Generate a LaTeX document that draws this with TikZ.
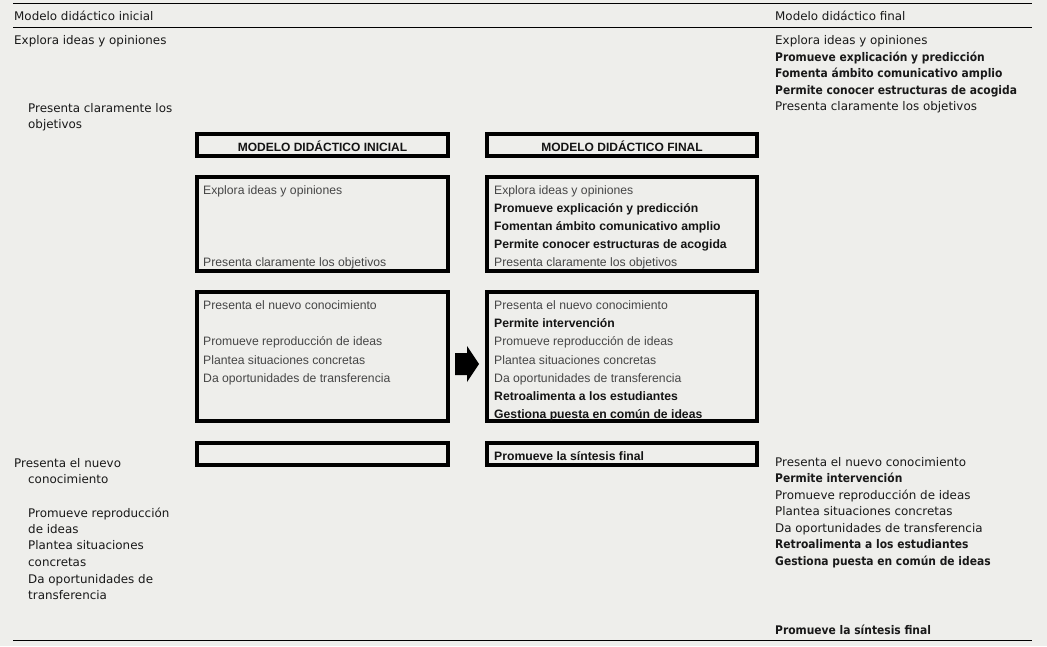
\documentclass[tikz,border=0pt]{standalone}
\usepackage{fontspec}
\setmainfont{DejaVu Sans}
\newfontfamily\dvbold[FakeStretch=0.9]{DejaVu Sans Bold}
\newfontfamily\arialf{Liberation Sans}
\definecolor{bg}{RGB}{238,238,235}
\definecolor{txt}{RGB}{25,25,25}
\definecolor{boxtxt}{RGB}{70,70,70}
\definecolor{boldtxt}{RGB}{20,20,20}
\begin{document}
\begin{tikzpicture}[x=1pt,y=-1pt,
  col/.style={anchor=base west,inner sep=0pt,text=txt,font=\fontsize{11.9}{14}\selectfont},
  colb/.style={col,font=\dvbold\fontsize{11.9}{14}\selectfont},
  bt/.style={anchor=base west,inner sep=0pt,text=boxtxt,font=\arialf\fontsize{12.2}{14}\selectfont},
  btb/.style={bt,text=boldtxt,font=\arialf\fontsize{12.2}{14}\selectfont\bfseries},
  hdr/.style={anchor=base,inner sep=0pt,text=boldtxt,font=\arialf\fontsize{12}{14}\selectfont\bfseries},
  rule/.style={line width=0.9pt,black},
  boxline/.style={line width=3.6pt,black}]
\fill[bg] (0,0) rectangle (1047,646);
\useasboundingbox (0,0) rectangle (1047,646);
% rules
\draw[rule] (13,3) -- (1032,3);
\draw[rule] (13,27) -- (1032,27);
\draw[rule] (13,640) -- (1032,640);
% headers
\node[col] (hl) at (14,20) {Modelo didáctico inicial};
\node[col] (hr) at (775,20) {Modelo didáctico final};
% left column top
\node[col] (l1) at (14,44) {Explora ideas y opiniones};
\node[col] (l2) at (28,112) {Presenta claramente los};
\node[col] (l3) at (28,128) {objetivos};
% right column top
\node[col] (r1) at (775,44) {Explora ideas y opiniones};
\node[colb] (r2) at (775,61) {Promueve explicación y predicción};
\node[colb] (r3) at (775,77.5) {Fomenta ámbito comunicativo amplio};
\node[colb] (r4) at (775,94) {Permite conocer estructuras de acogida};
\node[col] (r5) at (775,110.5) {Presenta claramente los objetivos};
% boxes
\draw[boxline] (197,134) rectangle (448,156);
\draw[boxline] (487,134) rectangle (757,156);
\draw[boxline] (197,177) rectangle (448,271);
\draw[boxline] (487,177) rectangle (757,271);
\draw[boxline] (197,292) rectangle (448,421);
\draw[boxline] (487,292) rectangle (757,421);
\draw[boxline] (197,443) rectangle (448,465);
\draw[boxline] (487,443) rectangle (757,465);
\node[hdr] (h1) at (322.5,151) {MODELO DIDÁCTICO INICIAL};
\node[hdr] (h2) at (622,151) {MODELO DIDÁCTICO FINAL};
% box 2
\node[bt] (a1) at (203,194) {Explora ideas y opiniones};
\node[bt] (a2) at (203,266) {Presenta claramente los objetivos};
\node[bt] (b1) at (494,194) {Explora ideas y opiniones};
\node[btb] (b2) at (494,212) {Promueve explicación y predicción};
\node[btb] (b3) at (494,230) {Fomentan ámbito comunicativo amplio};
\node[btb] (b4) at (494,248) {Permite conocer estructuras de acogida};
\node[bt] (b5) at (494,266) {Presenta claramente los objetivos};
% box 3
\node[bt] (c1) at (203,309) {Presenta el nuevo conocimiento};
\node[bt] (c2) at (203,345) {Promueve reproducción de ideas};
\node[bt] (c3) at (203,364) {Plantea situaciones concretas};
\node[bt] (c4) at (203,382) {Da oportunidades de transferencia};
\node[bt] (d1) at (494,309) {Presenta el nuevo conocimiento};
\node[btb] (d2) at (494,327) {Permite intervención};
\node[bt] (d3) at (494,345) {Promueve reproducción de ideas};
\node[bt] (d4) at (494,364) {Plantea situaciones concretas};
\node[bt] (d5) at (494,382) {Da oportunidades de transferencia};
\node[btb] (d6) at (494,400) {Retroalimenta a los estudiantes};
\node[btb] (d7) at (494,418) {Gestiona puesta en común de ideas};
% box 4
\node[btb] (e1) at (494,460) {Promueve la síntesis final};
% arrow
\fill[black] (455,353) -- (467,353) -- (467,346) -- (479,364) -- (467,382) -- (467,375) -- (455,375) -- cycle;
% bottom left
\node[col] (m1) at (14,467) {Presenta el nuevo};
\node[col] (m2) at (28,483) {conocimiento};
\node[col] (m3) at (28,517) {Promueve reproducción};
\node[col] (m4) at (28,533) {de ideas};
\node[col] (m5) at (28,549.5) {Plantea situaciones};
\node[col] (m6) at (28,566) {concretas};
\node[col] (m7) at (28,583) {Da oportunidades de};
\node[col] (m8) at (28,599) {transferencia};
% bottom right
\node[col] (n1) at (775,466) {Presenta el nuevo conocimiento};
\node[colb] (n2) at (775,482.5) {Permite intervención};
\node[col] (n3) at (775,499) {Promueve reproducción de ideas};
\node[col] (n4) at (775,515.5) {Plantea situaciones concretas};
\node[col] (n5) at (775,532) {Da oportunidades de transferencia};
\node[colb] (n6) at (775,548.5) {Retroalimenta a los estudiantes};
\node[colb] (n7) at (775,565) {Gestiona puesta en común de ideas};
\node[colb] (n8) at (775,634) {Promueve la síntesis final};
\end{tikzpicture}
\end{document}
